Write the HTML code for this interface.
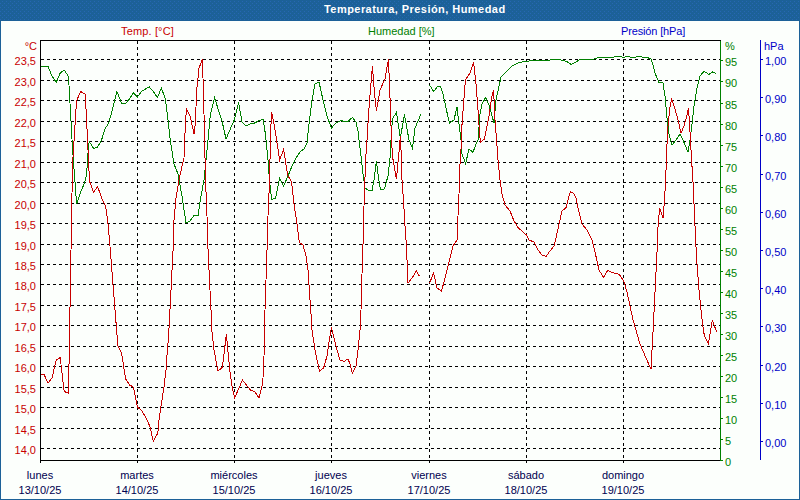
<!DOCTYPE html>
<html><head><meta charset="utf-8"><title>Temperatura, Presión, Humedad</title>
<style>
html,body{margin:0;padding:0;background:#fcfffc;}
body{width:800px;height:500px;position:relative;overflow:hidden;font-family:"Liberation Sans",sans-serif;font-size:11px;}
#bar{position:absolute;left:0;top:0;width:800px;height:21px;background:transparent;color:#fff;font-weight:bold;font-size:11px;line-height:19px;letter-spacing:0.45px;white-space:nowrap;text-indent:324px}
#frame{position:absolute;left:0;top:0;width:800px;height:500px;box-sizing:border-box;border:1px solid #1c6198;border-top:none}
svg{position:absolute;left:0;top:0}
.g{stroke:#000;stroke-width:1;stroke-dasharray:3 3}
.k{stroke:#000;stroke-width:1}
.l{position:absolute;white-space:nowrap;line-height:13px;height:13px}
.r{color:#c80000} .gr{color:#008000} .bl{color:#0000c8}
.d{width:80px;text-align:center;color:#000050}
</style></head><body>
<div id="frame"></div>
<svg id="dith" width="800" height="21" viewBox="0 0 800 21" shape-rendering="crispEdges"><defs><pattern id="dp" width="4" height="4" patternUnits="userSpaceOnUse"><rect x="2" y="1" width="1" height="1" fill="#2767b2"/><rect x="0" y="3" width="1" height="1" fill="#2767b2"/></pattern></defs><rect width="800" height="21" fill="#1c6198"/><rect width="800" height="21" fill="url(#dp)"/></svg>
<div id="bar">Temperatura, Presión, Humedad</div>
<svg width="800" height="500" viewBox="0 0 800 500" shape-rendering="crispEdges">
<line x1="41" y1="448.5" x2="720" y2="448.5" class="g"/>
<line x1="41" y1="428.5" x2="720" y2="428.5" class="g"/>
<line x1="41" y1="407.5" x2="720" y2="407.5" class="g"/>
<line x1="41" y1="387.5" x2="720" y2="387.5" class="g"/>
<line x1="41" y1="366.5" x2="720" y2="366.5" class="g"/>
<line x1="41" y1="346.5" x2="720" y2="346.5" class="g"/>
<line x1="41" y1="325.5" x2="720" y2="325.5" class="g"/>
<line x1="41" y1="305.5" x2="720" y2="305.5" class="g"/>
<line x1="41" y1="284.5" x2="720" y2="284.5" class="g"/>
<line x1="41" y1="264.5" x2="720" y2="264.5" class="g"/>
<line x1="41" y1="244.5" x2="720" y2="244.5" class="g"/>
<line x1="41" y1="223.5" x2="720" y2="223.5" class="g"/>
<line x1="41" y1="203.5" x2="720" y2="203.5" class="g"/>
<line x1="41" y1="182.5" x2="720" y2="182.5" class="g"/>
<line x1="41" y1="162.5" x2="720" y2="162.5" class="g"/>
<line x1="41" y1="141.5" x2="720" y2="141.5" class="g"/>
<line x1="41" y1="121.5" x2="720" y2="121.5" class="g"/>
<line x1="41" y1="100.5" x2="720" y2="100.5" class="g"/>
<line x1="41" y1="80.5" x2="720" y2="80.5" class="g"/>
<line x1="41" y1="59.5" x2="720" y2="59.5" class="g"/>
<line x1="137.5" y1="41" x2="137.5" y2="460" class="g"/>
<line x1="137.5" y1="460" x2="137.5" y2="463" class="k"/>
<line x1="234.5" y1="41" x2="234.5" y2="460" class="g"/>
<line x1="234.5" y1="460" x2="234.5" y2="463" class="k"/>
<line x1="331.5" y1="41" x2="331.5" y2="460" class="g"/>
<line x1="331.5" y1="460" x2="331.5" y2="463" class="k"/>
<line x1="429.5" y1="41" x2="429.5" y2="460" class="g"/>
<line x1="429.5" y1="460" x2="429.5" y2="463" class="k"/>
<line x1="526.5" y1="41" x2="526.5" y2="460" class="g"/>
<line x1="526.5" y1="460" x2="526.5" y2="463" class="k"/>
<line x1="623.5" y1="41" x2="623.5" y2="460" class="g"/>
<line x1="623.5" y1="460" x2="623.5" y2="463" class="k"/>
<polyline points="40.0,66.4 48.0,66.4 52.0,76.0 56.2,82.4 60.2,73.0 64.2,70.0 68.5,76.4 72.5,148.0 76.6,204.0 80.6,192.0 84.6,183.0 86.6,174.0 88.6,144.0 89.6,142.0 93.6,148.4 97.6,147.0 101.6,140.0 104.8,129.0 108.8,123.0 112.8,108.0 117.0,91.6 121.4,103.0 125.4,103.6 129.4,99.0 133.4,93.0 137.4,97.0 141.4,91.6 145.4,89.0 149.4,87.0 153.4,91.6 157.4,97.4 161.4,88.0 165.4,99.0 168.0,120.0 170.0,138.0 174.0,164.0 178.0,174.0 182.0,196.0 186.0,223.0 190.0,221.0 194.0,215.6 198.0,216.0 200.0,202.0 204.0,180.0 206.0,160.0 208.0,140.0 210.4,114.0 214.6,98.0 222.0,121.0 226.0,139.0 234.2,120.0 238.6,102.6 242.0,122.0 246.4,126.0 250.4,124.0 254.6,123.0 259.0,120.6 263.0,119.4 264.6,128.0 266.0,140.0 268.0,160.0 269.6,182.0 271.6,199.4 275.6,198.0 279.6,178.4 283.6,186.0 288.0,176.0 292.0,166.0 296.0,158.0 300.0,152.0 304.0,149.0 307.0,143.0 309.0,124.0 312.0,100.0 315.0,84.0 319.0,82.0 323.0,100.0 327.0,116.0 331.4,128.0 336.0,123.0 341.0,120.4 344.0,121.6 348.0,121.4 352.4,117.4 356.0,122.0 358.0,131.0 359.0,140.0 361.0,156.0 363.0,174.0 365.0,188.0 368.0,190.0 372.0,191.0 374.0,180.0 376.4,161.0 378.0,174.0 380.4,190.0 384.4,189.0 388.0,176.0 390.0,158.0 391.0,140.0 392.4,119.0 396.4,112.4 400.4,138.0 404.4,114.4 409.0,140.0 412.4,148.0 413.6,140.0 415.0,128.0 421.0,114.0" fill="none" stroke="#008000" stroke-width="1"/>
<polyline points="429.6,85.0 433.6,91.6 437.6,86.4 440.6,87.0 443.0,94.0 446.0,108.0 449.4,123.0 454.0,120.0 457.0,107.0 459.0,124.0 461.0,140.0 462.0,154.0 465.6,163.6 469.0,149.0 473.0,152.4 476.0,144.0 478.0,140.0 480.0,114.0 482.0,104.0 485.6,97.6 489.0,105.0 494.0,123.0 496.0,100.0 501.0,77.0 506.0,72.0 512.0,66.0 518.0,63.0 522.0,62.0 526.4,61.6 532.0,60.4 538.0,60.6 544.0,61.0 550.0,60.0 554.0,59.4 559.0,59.4 563.0,60.6 567.0,61.6 571.0,64.4 575.0,62.4 580.0,59.6 586.0,59.4 593.0,59.4 598.0,57.6 604.0,57.2 612.0,57.2 617.0,56.8 620.0,56.4 623.4,57.6 627.0,56.4 631.0,57.2 635.0,57.2 639.0,56.2 643.0,57.2 647.0,57.4 651.0,59.0 652.4,63.0 655.0,73.0 659.0,82.6 663.0,83.0 665.0,96.0 667.0,118.0 669.0,134.0 670.4,140.0 672.0,145.0 676.0,140.0 680.0,134.0 683.0,140.0 688.0,152.0 690.0,140.0 691.6,128.0 694.0,106.0 697.0,88.0 700.0,76.0 704.0,71.4 709.0,74.4 712.4,72.0 716.0,73.4" fill="none" stroke="#008000" stroke-width="1"/>
<polyline points="40.0,374.4 44.0,374.4 48.0,383.0 52.0,378.0 56.2,360.0 60.2,357.6 64.2,391.6 68.5,393.0 72.5,165.0 76.5,101.0 80.5,91.5 85.0,94.0 85.6,100.0 89.5,181.0 93.6,192.4 97.6,186.4 101.6,198.0 105.6,206.0 107.6,220.0 109.5,240.0 117.4,340.0 118.0,346.0 121.6,353.0 123.6,366.0 125.6,379.0 129.6,385.0 133.5,387.2 134.5,392.0 137.5,407.0 142.0,411.0 146.0,418.0 149.5,425.5 150.5,429.0 153.3,441.5 157.5,433.5 158.5,428.0 159.0,420.0 160.8,407.0 164.0,387.5 164.5,381.5 166.0,370.0 167.6,346.0 168.4,340.0 173.6,240.0 174.0,220.0 176.0,198.0 179.0,180.0 182.0,166.0 184.0,158.0 184.6,140.0 186.4,108.4 190.4,117.0 194.0,134.0 195.0,126.0 197.4,80.0 198.0,78.0 199.0,68.0 202.4,59.4 203.0,78.0 204.0,114.0 204.6,140.0 205.6,182.0 207.0,216.0 207.6,240.0 209.0,270.0 211.0,310.0 212.0,332.0 214.0,350.0 218.0,371.0 222.4,367.4 224.0,354.0 226.4,334.0 228.0,352.0 230.0,372.0 232.0,386.0 234.6,398.0 238.6,389.0 242.4,380.0 246.4,385.0 250.4,390.0 255.0,392.0 259.0,398.0 262.0,386.0 263.0,378.0 264.0,356.0 264.6,324.0 265.0,310.0 266.0,280.0 267.0,250.0 267.6,240.0 268.0,216.0 269.6,180.0 270.4,140.0 271.0,124.0 271.6,111.6 274.0,124.0 276.6,140.0 279.6,160.0 283.6,149.4 287.6,175.0 291.6,182.0 294.0,204.0 297.0,224.0 299.0,240.0 300.0,243.0 303.0,245.0 306.0,256.0 308.0,270.0 310.0,300.0 311.4,320.0 312.0,330.0 315.0,350.0 319.4,371.0 323.6,368.0 327.0,356.0 329.0,342.0 331.4,327.6 336.0,346.0 340.0,360.0 344.0,361.4 348.0,359.0 350.0,364.0 352.4,373.4 356.0,366.0 358.0,350.0 360.0,330.0 361.0,310.0 362.0,274.0 363.0,244.0 363.4,240.0 364.0,206.0 365.6,160.0 367.0,140.0 368.4,116.0 370.4,90.0 372.4,66.0 374.4,92.0 376.4,111.0 380.0,90.0 385.0,79.0 388.4,59.4 389.6,86.0 391.0,126.0 392.4,156.0 396.4,179.0 399.0,152.0 400.4,136.0 401.0,150.0 402.0,180.0 403.6,202.0 405.0,226.0 406.0,240.0 407.0,260.0 408.0,283.0 412.0,278.0 416.4,271.0 419.6,276.4" fill="none" stroke="#c80000" stroke-width="1"/>
<polyline points="429.6,283.0 433.6,273.0 437.0,288.0 441.6,291.0 446.0,274.0 450.0,258.0 453.0,246.0 457.0,240.0 458.0,216.0 459.0,194.0 460.0,164.0 461.0,150.0 461.6,130.0 465.4,80.0 470.0,73.0 473.6,62.0 476.0,84.0 478.0,110.0 479.6,134.0 480.4,142.0 482.0,141.0 484.4,139.0 489.0,116.0 491.6,98.0 493.6,90.0 495.0,120.0 496.6,140.0 498.0,160.0 500.0,180.0 502.0,194.0 505.0,205.0 510.0,211.0 514.0,221.0 518.0,227.5 523.0,232.0 526.4,235.0 529.0,240.0 534.0,242.0 538.0,250.0 542.0,255.0 546.0,256.4 550.0,251.0 554.0,246.0 555.6,240.0 559.0,224.0 562.0,211.0 566.0,207.6 568.0,200.0 570.4,191.6 574.0,193.6 576.0,198.0 578.0,208.0 582.0,224.0 587.0,230.0 590.0,236.0 592.0,240.0 595.0,252.0 599.0,270.0 603.6,277.6 607.6,270.4 612.0,272.6 617.0,273.6 620.4,275.6 624.0,282.0 627.0,292.0 630.0,306.0 633.0,320.0 636.0,330.0 640.0,344.0 646.0,358.0 651.0,369.0 652.0,350.0 653.0,332.0 653.6,320.0 655.0,292.0 656.2,268.0 657.3,246.0 658.2,222.0 659.8,208.0 663.0,218.0 664.0,206.0 665.6,182.0 666.4,160.0 667.2,140.0 668.0,126.0 669.8,108.0 671.6,99.4 674.5,107.0 678.0,120.0 681.0,133.0 684.0,126.0 687.0,115.0 688.4,108.0 689.6,124.0 690.4,140.0 691.6,160.0 693.0,182.0 694.0,204.0 695.0,226.0 695.6,240.0 697.0,264.0 699.0,290.0 701.0,310.0 703.0,327.0 704.4,336.0 708.4,343.6 710.0,334.0 712.4,320.0 714.4,326.0 717.0,332.0" fill="none" stroke="#c80000" stroke-width="1"/>
<line x1="40" y1="40.5" x2="721" y2="40.5" class="k"/>
<line x1="40.5" y1="40" x2="40.5" y2="463" class="k"/>
<line x1="40" y1="460.5" x2="721" y2="460.5" class="k"/>
<line x1="720.5" y1="41" x2="720.5" y2="461" stroke="#008000"/>
<line x1="760.5" y1="40" x2="760.5" y2="460" stroke="#0000c8"/>
<line x1="721" y1="460.5" x2="723" y2="460.5" stroke="#008000"/>
<line x1="721" y1="439.5" x2="723" y2="439.5" stroke="#008000"/>
<line x1="721" y1="418.5" x2="723" y2="418.5" stroke="#008000"/>
<line x1="721" y1="397.5" x2="723" y2="397.5" stroke="#008000"/>
<line x1="721" y1="376.5" x2="723" y2="376.5" stroke="#008000"/>
<line x1="721" y1="355.5" x2="723" y2="355.5" stroke="#008000"/>
<line x1="721" y1="334.5" x2="723" y2="334.5" stroke="#008000"/>
<line x1="721" y1="313.5" x2="723" y2="313.5" stroke="#008000"/>
<line x1="721" y1="292.5" x2="723" y2="292.5" stroke="#008000"/>
<line x1="721" y1="271.5" x2="723" y2="271.5" stroke="#008000"/>
<line x1="721" y1="250.5" x2="723" y2="250.5" stroke="#008000"/>
<line x1="721" y1="229.5" x2="723" y2="229.5" stroke="#008000"/>
<line x1="721" y1="208.5" x2="723" y2="208.5" stroke="#008000"/>
<line x1="721" y1="187.5" x2="723" y2="187.5" stroke="#008000"/>
<line x1="721" y1="166.5" x2="723" y2="166.5" stroke="#008000"/>
<line x1="721" y1="145.5" x2="723" y2="145.5" stroke="#008000"/>
<line x1="721" y1="124.5" x2="723" y2="124.5" stroke="#008000"/>
<line x1="721" y1="103.5" x2="723" y2="103.5" stroke="#008000"/>
<line x1="721" y1="81.5" x2="723" y2="81.5" stroke="#008000"/>
<line x1="721" y1="60.5" x2="723" y2="60.5" stroke="#008000"/>
<line x1="761" y1="441.5" x2="763" y2="441.5" stroke="#0000c8"/>
<line x1="761" y1="403.5" x2="763" y2="403.5" stroke="#0000c8"/>
<line x1="761" y1="365.5" x2="763" y2="365.5" stroke="#0000c8"/>
<line x1="761" y1="326.5" x2="763" y2="326.5" stroke="#0000c8"/>
<line x1="761" y1="288.5" x2="763" y2="288.5" stroke="#0000c8"/>
<line x1="761" y1="250.5" x2="763" y2="250.5" stroke="#0000c8"/>
<line x1="761" y1="212.5" x2="763" y2="212.5" stroke="#0000c8"/>
<line x1="761" y1="174.5" x2="763" y2="174.5" stroke="#0000c8"/>
<line x1="761" y1="135.5" x2="763" y2="135.5" stroke="#0000c8"/>
<line x1="761" y1="97.5" x2="763" y2="97.5" stroke="#0000c8"/>
<line x1="761" y1="59.5" x2="763" y2="59.5" stroke="#0000c8"/>
</svg>
<div class="l r" style="right:764px;top:444px">14,0</div><div class="l r" style="right:764px;top:424px">14,5</div><div class="l r" style="right:764px;top:403px">15,0</div><div class="l r" style="right:764px;top:383px">15,5</div><div class="l r" style="right:764px;top:362px">16,0</div><div class="l r" style="right:764px;top:342px">16,5</div><div class="l r" style="right:764px;top:321px">17,0</div><div class="l r" style="right:764px;top:301px">17,5</div><div class="l r" style="right:764px;top:280px">18,0</div><div class="l r" style="right:764px;top:260px">18,5</div><div class="l r" style="right:764px;top:240px">19,0</div><div class="l r" style="right:764px;top:219px">19,5</div><div class="l r" style="right:764px;top:199px">20,0</div><div class="l r" style="right:764px;top:178px">20,5</div><div class="l r" style="right:764px;top:158px">21,0</div><div class="l r" style="right:764px;top:137px">21,5</div><div class="l r" style="right:764px;top:117px">22,0</div><div class="l r" style="right:764px;top:96px">22,5</div><div class="l r" style="right:764px;top:76px">23,0</div><div class="l r" style="right:764px;top:55px">23,5</div><div class="l r" style="right:763px;top:40px">°C</div><div class="l gr" style="left:725px;top:456px">0</div><div class="l gr" style="left:725px;top:435px">5</div><div class="l gr" style="left:725px;top:414px">10</div><div class="l gr" style="left:725px;top:393px">15</div><div class="l gr" style="left:725px;top:372px">20</div><div class="l gr" style="left:725px;top:351px">25</div><div class="l gr" style="left:725px;top:330px">30</div><div class="l gr" style="left:725px;top:309px">35</div><div class="l gr" style="left:725px;top:288px">40</div><div class="l gr" style="left:725px;top:267px">45</div><div class="l gr" style="left:725px;top:246px">50</div><div class="l gr" style="left:725px;top:225px">55</div><div class="l gr" style="left:725px;top:204px">60</div><div class="l gr" style="left:725px;top:183px">65</div><div class="l gr" style="left:725px;top:162px">70</div><div class="l gr" style="left:725px;top:141px">75</div><div class="l gr" style="left:725px;top:120px">80</div><div class="l gr" style="left:725px;top:99px">85</div><div class="l gr" style="left:725px;top:77px">90</div><div class="l gr" style="left:725px;top:56px">95</div><div class="l gr" style="left:725px;top:40px">%</div><div class="l bl" style="left:765px;top:437px">0,00</div><div class="l bl" style="left:765px;top:399px">0,10</div><div class="l bl" style="left:765px;top:361px">0,20</div><div class="l bl" style="left:765px;top:322px">0,30</div><div class="l bl" style="left:765px;top:284px">0,40</div><div class="l bl" style="left:765px;top:246px">0,50</div><div class="l bl" style="left:765px;top:208px">0,60</div><div class="l bl" style="left:765px;top:170px">0,70</div><div class="l bl" style="left:765px;top:131px">0,80</div><div class="l bl" style="left:765px;top:93px">0,90</div><div class="l bl" style="left:765px;top:55px">1,00</div><div class="l bl" style="left:764px;top:40px">hPa</div><div class="l d" style="left:0px;top:469px">lunes</div><div class="l d" style="left:0px;top:484px">13/10/25</div><div class="l d" style="left:97px;top:469px">martes</div><div class="l d" style="left:97px;top:484px">14/10/25</div><div class="l d" style="left:194px;top:469px">miércoles</div><div class="l d" style="left:194px;top:484px">15/10/25</div><div class="l d" style="left:291px;top:469px">jueves</div><div class="l d" style="left:291px;top:484px">16/10/25</div><div class="l d" style="left:389px;top:469px">viernes</div><div class="l d" style="left:389px;top:484px">17/10/25</div><div class="l d" style="left:486px;top:469px">sábado</div><div class="l d" style="left:486px;top:484px">18/10/25</div><div class="l d" style="left:583px;top:469px">domingo</div><div class="l d" style="left:583px;top:484px">19/10/25</div><div class="l r" style="left:121px;top:25px;letter-spacing:0.15px">Temp. [°C]</div><div class="l gr" style="left:368px;top:25px">Humedad [%]</div><div class="l bl" style="left:621px;top:25px;letter-spacing:-0.15px">Presión [hPa]</div>
</body></html>
